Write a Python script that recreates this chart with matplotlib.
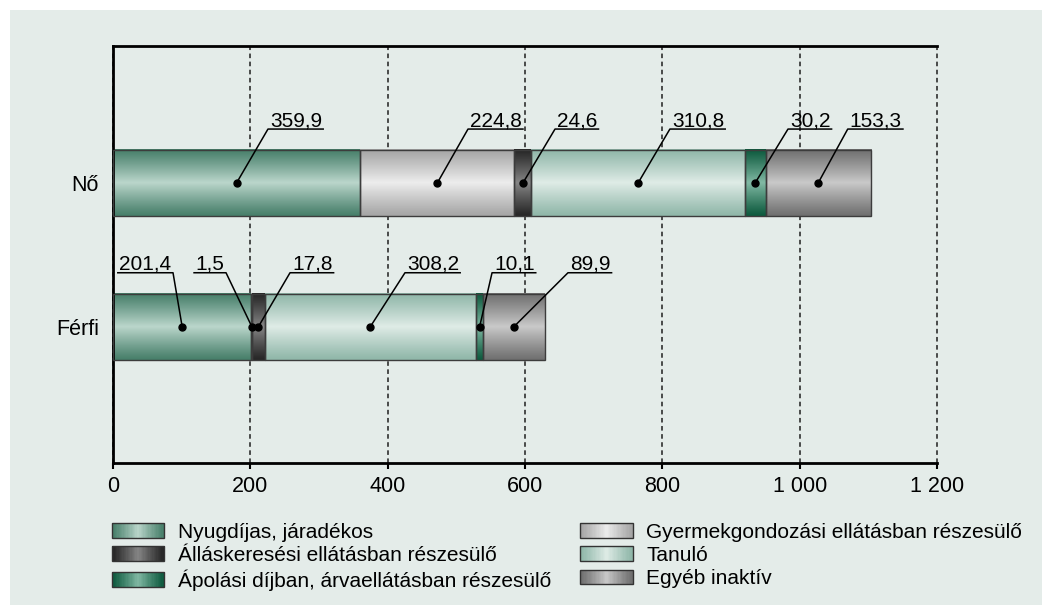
import numpy as np
import matplotlib
matplotlib.use('Agg')
import matplotlib.pyplot as plt
from matplotlib.colors import LinearSegmentedColormap
from matplotlib.patches import Rectangle, Patch
from matplotlib.legend_handler import HandlerBase

plt.rcParams['font.family'] = ['Liberation Sans', 'DejaVu Sans']

# adatok (ezer fő)
categories = ['Férfi', 'Nő']
series = ['Nyugdíjas, járadékos',
          'Gyermekgondozási ellátásban részesülő',
          'Álláskeresési ellátásban részesülő',
          'Tanuló',
          'Ápolási díjban, árvaellátásban részesülő',
          'Egyéb inaktív']
ferfi = [201.4, 1.5, 17.8, 308.2, 10.1, 89.9]
no = [359.9, 224.8, 24.6, 310.8, 30.2, 153.3]
x_ticks = [0, 200, 400, 600, 800, 1000, 1200]

# címkék helye (x, melyik végén a vonal)
label_x = {'Nő': [225.7, 517, 643.7, 811, 983, 1070],
           'Férfi': [87.4, 164.6, 257.8, 425.2, 552, 662.6]}
label_side = {'Nő': ['left'] * 6,
              'Férfi': ['right', 'right', 'left', 'left', 'left', 'left']}

# színátmenetek: (sötét szél, világos közép)
grad_colors = [('#477f6a', '#b9d5ca'),
               ('#a6a6a6', '#ececec'),
               ('#262626', '#858585'),
               ('#90b7a9', '#deebe6'),
               ('#0d5a3e', '#80b8a3'),
               ('#707070', '#c8c8c8')]
bg = '#e4ece9'


def shade(n):
    t = np.linspace(0, 1, n)
    return (1 - np.abs(2 * t - 1)) ** 1.1


fig = plt.figure(figsize=(10.42, 6.05), dpi=100)
fig.patch.set_facecolor('white')
fig.patches.append(Rectangle((10 / 1042, 0), 1, 1 - 10 / 605, transform=fig.transFigure,
                             facecolor=bg, edgecolor='none', zorder=-10))
ax = fig.add_axes([113 / 1042, 1 - 463 / 605, (937 - 113) / 1042, (463 - 46) / 605])
ax.set_facecolor('none')

grad = shade(80).reshape(-1, 1)
cmaps = [LinearSegmentedColormap.from_list('g%d' % i, c) for i, c in enumerate(grad_colors)]

bar_h = 0.46
data = {'Férfi': ferfi, 'Nő': no}
centers = {}
for pos, cat in enumerate(categories):
    left = 0
    centers[cat] = []
    for i, v in enumerate(data[cat]):
        ax.imshow(grad, cmap=cmaps[i], extent=(left, left + v, pos - bar_h / 2, pos + bar_h / 2),
                  aspect='auto', origin='lower', interpolation='bilinear', zorder=2)
        ax.barh(pos, v, left=left, height=bar_h, facecolor='none',
                edgecolor='#3c3c3c', linewidth=1, zorder=3)
        centers[cat].append(left + v / 2)
        left += v

ax.set_xlim(0, 1200)
ax.set_ylim(-0.949, 1.953)
ax.set_xticks(x_ticks)
ax.set_xticklabels(['{:,}'.format(t).replace(',', ' ') for t in x_ticks], fontsize=15.5)
ax.set_yticks(range(len(categories)))
ax.set_yticklabels(categories, fontsize=15.5)
ax.tick_params(axis='y', length=0, pad=10)
ax.tick_params(axis='x', length=4, width=1.5, pad=5, direction='out')
for s in ['top', 'left', 'bottom']:
    ax.spines[s].set_linewidth(2)
ax.spines['right'].set_visible(False)
ax.xaxis.grid(True, linestyle=(0, (3, 2.3)), color='#1e1e1e', linewidth=1.1)
for gl in ax.get_xgridlines():
    gl.set_clip_on(False)
ax.set_axisbelow(True)

# értékcímkék aláhúzással és vezetővonallal
under_off = 0.375
texts = []
for pos, cat in enumerate(categories):
    uy = pos + under_off
    for i, v in enumerate(data[cat]):
        lx = label_x[cat][i]
        side = label_side[cat][i]
        s = ('%.1f' % v).replace('.', ',')
        if side == 'left':
            t = ax.annotate(s, xy=(lx, uy), xytext=(1.5, 2), textcoords='offset points',
                            ha='left', va='baseline', fontsize=15)
        else:
            t = ax.annotate(s, xy=(lx, uy), xytext=(-1.5, 2), textcoords='offset points',
                            ha='right', va='baseline', fontsize=15)
        texts.append((t, centers[cat][i], pos, lx, uy, side))
        ax.plot(centers[cat][i], pos, 'o', color='black', ms=5, zorder=6)

fig.canvas.draw()
renderer = fig.canvas.get_renderer()
inv = ax.transData.inverted()
for t, cx, pos, lx, uy, side in texts:
    bb = t.get_window_extent(renderer)
    x0 = inv.transform((bb.x0 - 1, 0))[0]
    x1 = inv.transform((bb.x1 + 1, 0))[0]
    if side == 'left':
        xs = [cx, lx, x1]
    else:
        xs = [cx, lx, x0]
    ax.plot(xs, [pos, uy, uy], color='black', linewidth=1.1, zorder=5, clip_on=False)


class GradHandler(HandlerBase):
    def __init__(self, colors):
        super().__init__()
        self.colors = colors

    def create_artists(self, legend, orig_handle, xdescent, ydescent, width, height, fontsize, trans):
        cm = LinearSegmentedColormap.from_list('h', self.colors)
        n = 40
        vals = shade(n)
        arts = []
        for k in range(n):
            r = Rectangle((-xdescent + k * width / n, -ydescent), width / n + 0.3, height,
                          facecolor=cm(vals[k]), edgecolor='none', transform=trans)
            arts.append(r)
        arts.append(Rectangle((-xdescent, -ydescent), width, height, fill=False,
                              edgecolor='#333333', linewidth=1, transform=trans))
        return arts


handles = [Patch(label=s) for s in series]
hmap = {h: GradHandler(grad_colors[i]) for i, h in enumerate(handles)}
order = [0, 2, 4, 1, 3, 5]
fig.legend([handles[i] for i in order], [series[i] for i in order], handler_map=hmap,
           loc='upper left', bbox_to_anchor=(112 / 1042, 1 - 523 / 605), ncol=2,
           frameon=False, fontsize=15, borderpad=0, borderaxespad=0,
           handlelength=2.5, handleheight=0.72, handletextpad=0.67,
           labelspacing=0.2, columnspacing=1.4)

fig.savefig('out.png', dpi=100, facecolor=fig.get_facecolor())
